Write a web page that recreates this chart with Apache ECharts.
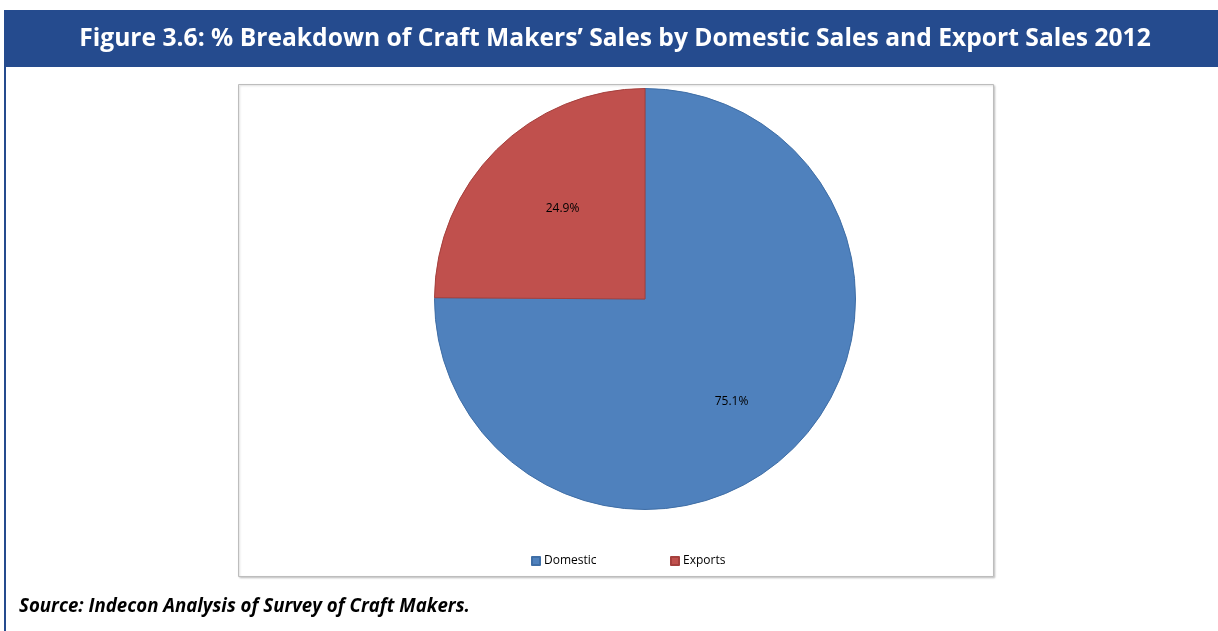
<!DOCTYPE html>
<html>
<head>
<meta charset="utf-8">
<script src="https://cdn.jsdelivr.net/npm/echarts@6/dist/echarts.min.js"></script>
<style>
  html, body { margin: 0; padding: 0; background: #ffffff; }
  #chart { width: 1218px; height: 631px; }
</style>
</head>
<body>
<div id="chart"></div>
<script>
// Sales split, 2012 (%)
const categories = ['Domestic', 'Exports'];
const shares = [75.1, 24.9];
const sliceColors = ['#4F81BD', '#C0504D'];
const sliceBorders = ['#3F6EA6', '#A5403D'];
// small nudges for the percentage labels
const labelOffsets = [[-9, 6], [13, 6]];

const titleText = 'Figure 3.6: % Breakdown of Craft Makers\u2019 Sales by Domestic Sales and Export Sales 2012';
const sourceText = 'Source: Indecon Analysis of Survey of Craft Makers.';

// Pick a font size so a string spans a given width
function fitSize(text, weight, style, family, targetWidth) {
  const ctx = document.createElement('canvas').getContext('2d');
  ctx.font = style + ' ' + weight + ' 100px ' + family;
  const w = ctx.measureText(text).width;
  return 100 * targetWidth / w;
}

const FONT = '"Open Sans", "Noto Sans", sans-serif';
const titleSize = fitSize(titleText, 'bold', 'normal', FONT, 1072);
const sourceSize = fitSize(sourceText, 'bold', 'italic', FONT, 451);

const chart = echarts.init(document.getElementById('chart'), null, { renderer: 'canvas' });

const pieData = categories.map((name, i) => ({
  name: name,
  value: shares[i],
  itemStyle: { color: sliceColors[i], borderColor: sliceBorders[i], borderWidth: 1 }
}));

chart.setOption({
  animation: false,
  textStyle: { fontFamily: FONT },
  graphic: [
    // heading band
    { type: 'rect', shape: { x: 4, y: 10, width: 1214, height: 57 }, style: { fill: '#254B8E' }, z: 0 },
    { type: 'text', x: 615, y: 39, style: {
        text: titleText, fill: '#ffffff', fontFamily: FONT, fontWeight: 'bold',
        fontSize: titleSize, align: 'center', verticalAlign: 'middle' }, z: 1 },
    // left frame line
    { type: 'rect', shape: { x: 4, y: 67, width: 2, height: 564 }, style: { fill: '#254B8E' }, z: 0 },
    // chart area frame
    { type: 'rect', shape: { x: 238.5, y: 84.5, width: 755, height: 492 },
      style: { fill: '#ffffff', stroke: '#BDBDBD', lineWidth: 1, shadowColor: 'rgba(0,0,0,0.18)', shadowBlur: 2, shadowOffsetX: 1, shadowOffsetY: 1 }, z: -1 },
    // source note
    { type: 'text', x: 19, y: 607, style: {
        text: sourceText, fill: '#000000', fontFamily: FONT, fontWeight: 'bold', fontStyle: 'italic',
        fontSize: sourceSize, align: 'left', verticalAlign: 'middle' }, z: 1 }
  ],
  legend: [
    { data: [categories[0]], left: 531, top: 555, padding: 0, itemWidth: 8, itemHeight: 8, itemGap: 0,
      icon: 'rect', textStyle: { fontSize: 12, color: '#000', padding: [0, 0, 0, -1] } },
    { data: [categories[1]], left: 670, top: 555, padding: 0, itemWidth: 8, itemHeight: 8, itemGap: 0,
      icon: 'rect', textStyle: { fontSize: 12, color: '#000', padding: [0, 0, 0, -1] } }
  ],
  series: [
    {
      type: 'pie',
      center: [645, 299],
      radius: [0, 210.5],
      startAngle: 90,
      clockwise: true,
      data: pieData,
      label: { show: false },
      labelLine: { show: false },
      emphasis: { disabled: true },
      z: 2
    },
    {
      // carries the percentage labels at ~63% of the pie radius
      type: 'pie',
      center: [645, 299],
      radius: [0, 265],
      startAngle: 90,
      clockwise: true,
      silent: true,
      data: pieData.map((d, i) => ({
        name: d.name, value: d.value,
        itemStyle: { color: 'rgba(0,0,0,0)', borderWidth: 0 },
        label: { offset: labelOffsets[i] }
      })),
      label: {
        show: true, position: 'inner', color: '#000', fontSize: 12,
        formatter: p => p.value.toFixed(1) + '%'
      },
      labelLine: { show: false },
      emphasis: { disabled: true },
      z: 3
    }
  ]
});
</script>
</body>
</html>
